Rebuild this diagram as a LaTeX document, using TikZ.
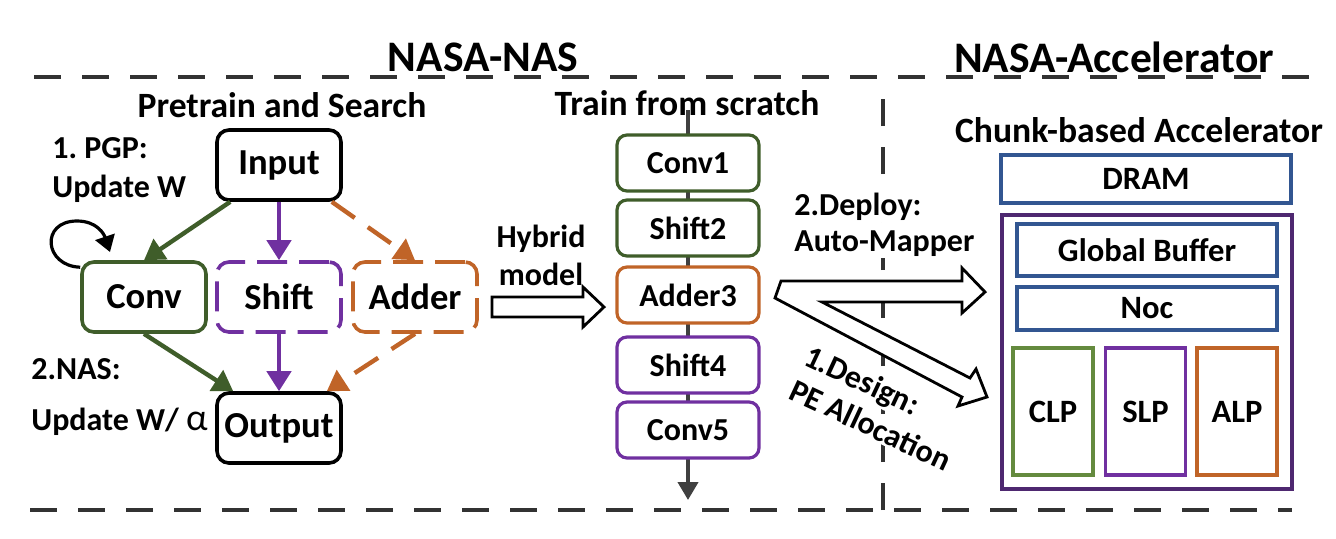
\documentclass[tikz,border=0pt]{standalone}
\usepackage{fontspec}
\setmainfont{Carlito}
\usetikzlibrary{arrows.meta,calc}
\frenchspacing
\definecolor{cgreen}{RGB}{63,93,42}
\definecolor{clgreen}{RGB}{100,138,62}
\definecolor{cpurple}{RGB}{112,48,160}
\definecolor{corange}{RGB}{192,100,40}
\definecolor{cblue}{RGB}{50,86,145}
\definecolor{couter}{RGB}{78,40,112}
\definecolor{cdash}{RGB}{50,50,50}
\definecolor{cgray}{RGB}{64,64,64}
\tikzset{
  title/.style={font=\bfseries\fontsize{21.8}{26}\selectfont, inner sep=0pt},
  subtitle/.style={font=\bfseries\fontsize{17.8}{21}\selectfont, inner sep=0pt},
  side/.style={font=\bfseries\fontsize{16}{19}\selectfont, inner sep=1pt, anchor=base west},
  wside/.style={side, fill=white},
  lbox/.style={draw, rounded corners=6pt, line width=1.8pt, minimum width=62pt, minimum height=35pt, fill=white, inner sep=0pt, font=\bfseries\fontsize{18.3}{21}\selectfont},
  mbox/.style={draw, rounded corners=5pt, line width=1.6pt, minimum width=71pt, minimum height=28pt, fill=white, inner sep=0pt, font=\bfseries\fontsize{16}{19}\selectfont},
  rbox/.style={draw, line width=1.6pt, fill=white, inner sep=0pt, font=\bfseries\fontsize{16.3}{19}\selectfont},
  lbdash/.style={dash pattern=on 15pt off 6pt},
  garrow/.style={line width=2.2pt, -{Triangle[length=10pt,width=12pt]}},
  darrow/.style={garrow, dash pattern=on 14pt off 8pt},
  frame/.style={cdash, line width=2pt, dash pattern=on 13.5pt off 10.5pt},
  hollow/.style={draw=black, line width=1.4pt, fill=white, line join=miter},
}
\begin{document}
\begin{tikzpicture}[x=0.5pt,y=-0.5pt]
\useasboundingbox (0,0) rectangle (1336,538);

% frame
\coordinate (tl) at (34,77);
\coordinate (tr) at (1317,77);
\coordinate (bl) at (30,510);
\coordinate (br) at (1292,510);
\coordinate (vt) at (883,92);
\coordinate (vb) at (883,510);
\draw[frame] (tl) -- (tr);
\draw[frame] (bl) -- (br);
\draw[frame] (vb) -- (vt);

% titles
\node[title] (t1) at (483,57) {NASA-NAS};
\node[title] (t2) at (1114,57) {NASA-Accelerator};
\node[subtitle] (s1) at (282,105) {Pretrain and Search};
\node[subtitle] (s2) at (687,103) {Train from scratch};
\node[subtitle] (s3) at (1139,130) {Chunk-based Accelerator};

% left graph
\node[lbox] (in) at (279,165) {Input};
\node[lbox, draw=cgreen] (conv) at (144,297) {Conv};
\node[lbox, draw=cpurple, lbdash] (shift) at (279,297) {Shift};
\node[lbox, draw=corange, lbdash] (adder) at (415,297) {Adder};
\node[lbox] (out) at (279,428) {Output};

\draw[garrow, cgreen] ($(in.south west)+(15,0)$) -- (conv.north);
\draw[garrow, cpurple] (in.south) -- (shift.north);
\draw[darrow, corange] ($(in.south east)+(-11,0)$) -- (adder.north);
\draw[garrow, cgreen] (conv.south) -- ($(out.north west)+(18,0)$);
\draw[garrow, cpurple] (shift.south) -- (out.north);
\draw[darrow, corange] (adder.south) -- ($(out.north east)+(-16,0)$);
\draw[line width=1.6pt, -{Triangle[length=8pt,width=10pt]}] ($(conv.north west)+(0,7)$) .. controls (44,266) and (40,221) .. (77,221) .. controls (97,221) and (104,234) .. (110,252);

\node[side] (p1) at (50,158) {1. PGP:};
\node[side] (p2) at (50,197) {Update W};
\node[side] (n1) at (29,379) {2.NAS:};
\node[side] (n2) at (29,430) {Update W/ {\mdseries\fontsize{19}{21}\selectfont α}};

% hybrid arrow
\draw[hollow] (492,297) -- (583,297) -- (583,287) -- (604,307) -- (583,327) -- (583,317) -- (492,317) -- cycle;
\node[side, anchor=base] (h1) at (541,247) {Hybrid};
\node[side, anchor=base] (h2) at (541,285) {model};

% middle column
\coordinate (ctop) at (688,110);
\coordinate (cbot) at (688,500);
\draw[cgray, line width=2pt, -{Triangle[length=9pt,width=10pt]}] (ctop) -- (cbot);
\node[mbox, draw=cgreen] (c1) at (688,163) {Conv1};
\node[mbox, draw=cgreen] (s2b) at (688,228) {Shift2};
\node[mbox, draw=corange] (a3) at (688,295) {Adder3};
\node[mbox, draw=cpurple] (s4) at (688,365) {Shift4};
\node[mbox, draw=cpurple] (c5) at (688,430) {Conv5};

% deploy / design labels and arrows
\node[wside] (d1) at (792,215) {2.Deploy:};
\node[wside] (d2) at (792,251) {Auto-Mapper};
\node[wside, rotate=-25] (e1) at (800,363) {1.Design:};
\node[wside, rotate=-25] (e2) at (785,397) {PE Allocation};
\draw[hollow] (775,298) -- (781,281) -- (962,281) -- (962,268) -- (985,292) -- (962,313) -- (962,302) -- (822,302) -- (970,378) -- (976,369) -- (987,397) -- (958,406) -- (962,397) -- cycle;

% accelerator
\node[rbox, draw=cblue, minimum width=145pt, minimum height=24pt] (dram) at (1146,179) {DRAM};
\draw[couter, line width=1.6pt] (1002,215) rectangle (1292,489);
\node[rbox, draw=cblue, minimum width=130pt, minimum height=26pt] (gb) at (1147,250) {Global Buffer};
\node[rbox, draw=cblue, minimum width=130pt, minimum height=21.5pt] (noc) at (1147,308.5) {Noc};
\node[rbox, draw=clgreen, minimum width=40pt, minimum height=63.5pt] (clp) at (1053,411.5) {CLP};
\node[rbox, draw=cpurple, minimum width=40pt, minimum height=63.5pt] (slp) at (1145.5,411.5) {SLP};
\node[rbox, draw=corange, minimum width=40pt, minimum height=63.5pt] (alp) at (1237,411.5) {ALP};
\end{tikzpicture}
\end{document}
